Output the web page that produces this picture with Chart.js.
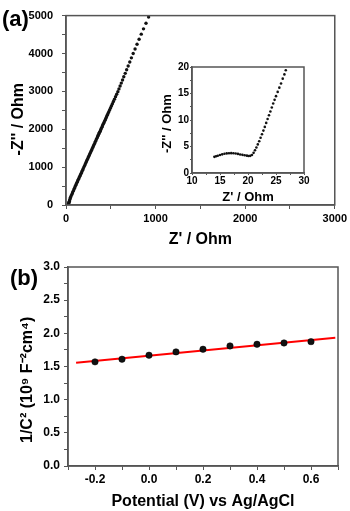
<!DOCTYPE html>
<html>
<head>
<meta charset="utf-8">
<script src="https://cdn.jsdelivr.net/npm/chart.js@4.4.1/dist/chart.umd.min.js"></script>
<style>
  html, body { margin: 0; padding: 0; background: #fff; }
  #wrap { position: relative; width: 350px; height: 511px; overflow: hidden; }
  canvas { position: absolute; }
  #cA { left: 0; top: 0; }
  #cIn { left: 150px; top: 55px; }
  #cB { left: 0; top: 250px; }
  .tag { position: absolute; font: bold 22px "Liberation Sans", Arial, sans-serif; line-height: 22px; color: #000; }
</style>
</head>
<body>
<div id="wrap">
  <canvas id="cA" width="350" height="250"></canvas>
  <canvas id="cIn" width="160" height="150"></canvas>
  <canvas id="cB" width="350" height="261"></canvas>
  <div class="tag" style="left:2px;top:8px">(a)</div>
  <div class="tag" style="left:10px;top:267px">(b)</div>
</div>
<script>
  // ---- Nyquist plot (a), Z' / -Z'' in Ohm
  const nyqZre = [27, 30, 33, 37, 41, 46, 50, 57, 65, 72, 79, 87, 94, 101, 109, 116, 124, 131, 139, 147,
    154, 162, 170, 177, 185, 192, 200, 208, 215, 223, 230, 238, 246, 253, 261, 268, 276, 284, 291, 299,
    306, 314, 322, 329, 337, 344, 352, 358, 363, 369, 374, 381, 387, 393, 400, 406, 413, 420, 428, 436,
    444, 452, 460, 469, 478, 488, 498, 508, 518, 529, 541, 553, 566, 579, 591, 604, 617, 631, 645, 661,
    677, 694, 712, 730, 750, 771, 793, 816, 840, 865, 893, 922];
  const nyqZim = [20, 45, 70, 100, 130, 165, 200, 240, 280, 320, 360, 400, 440, 480, 520, 560, 600, 640, 680, 720,
    760, 800, 840, 880, 920, 960, 1000, 1040, 1080, 1120, 1160, 1200, 1240, 1280, 1320, 1360, 1400, 1440, 1480, 1520,
    1560, 1600, 1640, 1680, 1720, 1760, 1800, 1830, 1858, 1888, 1918, 1950, 1982, 2015, 2050, 2085, 2122, 2160, 2200, 2240,
    2282, 2325, 2370, 2416, 2464, 2514, 2566, 2620, 2676, 2734, 2795, 2858, 2924, 2993, 3065, 3140, 3218, 3300, 3385, 3475,
    3570, 3670, 3775, 3885, 4000, 4120, 4245, 4375, 4510, 4650, 4800, 4960];

  // ---- inset, high frequency part
  const insetZre = [14.0, 14.3, 14.6, 15.0, 15.4, 15.8, 16.2, 16.6, 17.0, 17.4, 17.8, 18.2, 18.6, 19.0, 19.4,
    19.8, 20.1, 20.4, 20.7, 21.0, 21.25, 21.5, 21.75, 22.0, 22.25, 22.5, 22.75, 23.0, 23.25, 23.5, 23.75,
    24.0, 24.25, 24.5, 24.75, 25.0, 25.3, 25.6, 25.9, 26.2, 26.5, 26.75];
  const insetZim = [3.05, 3.15, 3.25, 3.4, 3.52, 3.62, 3.7, 3.74, 3.75, 3.73, 3.68, 3.6, 3.5, 3.42, 3.34,
    3.27, 3.22, 3.24, 3.4, 3.8, 4.3, 4.8, 5.4, 6.0, 6.65, 7.3, 8.0, 8.7, 9.45, 10.2, 10.9,
    11.6, 12.35, 13.1, 13.8, 14.5, 15.3, 16.1, 16.9, 17.8, 18.6, 19.4];

  // ---- Mott-Schottky plot (b)
  const potential = [-0.2, -0.1, 0.0, 0.1, 0.2, 0.3, 0.4, 0.5, 0.6];
  const invC2 = [1.57, 1.61, 1.67, 1.72, 1.76, 1.81, 1.835, 1.855, 1.875];
  const fitX = [-0.27, 0.69];
  const fitY = [1.555, 1.935];

  const EDGE = '#555';
  const FONT = '"Liberation Sans", Arial, sans-serif';
  Chart.defaults.font.family = FONT;
  Chart.defaults.font.weight = 'bold';
  Chart.defaults.color = '#000';

  const pts = (xs, ys) => xs.map((x, i) => ({ x, y: ys[i] }));

  const frame = {
    id: 'frame',
    afterDraw(c) {
      const { ctx, chartArea: a } = c;
      ctx.save();
      ctx.strokeStyle = EDGE;
      ctx.lineWidth = 1.5;
      ctx.strokeRect(a.left, a.top, a.right - a.left, a.bottom - a.top);
      ctx.restore();
    }
  };

  function axis(o) {
    return {
      type: 'linear',
      position: o.pos,
      min: o.min, max: o.max,
      afterFit: s => { if (o.pos === 'left') s.width = o.size; else s.height = o.size; },
      border: { display: true, color: EDGE, width: 1.5 },
      grid: { drawOnChartArea: false, drawTicks: true, tickLength: o.tick, color: EDGE, lineWidth: 1 },
      ticks: {
        stepSize: o.step, padding: o.pad, autoSkip: false, maxRotation: 0,
        color: '#000', font: { size: o.font, weight: 'bold' }, callback: o.label
      },
      title: {
        display: true, text: o.title, color: '#000',
        font: { size: o.tsize, weight: 'bold' }, padding: o.tpad
      }
    };
  }

  function base(padding, scales) {
    return {
      responsive: false, animation: false, devicePixelRatio: 1,
      layout: { padding },
      plugins: { legend: { display: false }, tooltip: { enabled: false } },
      scales
    };
  }

  const NB = '\u00A0';

  // (a) main
  new Chart(document.getElementById('cA'), {
    type: 'scatter',
    data: { datasets: [{
      data: pts(nyqZre, nyqZim),
      pointRadius: 1.7, pointBackgroundColor: '#111', pointBorderWidth: 0
    }]},
    options: base({ left: 0, top: 6, right: 14, bottom: 0 }, {
      x: axis({ pos: 'bottom', min: 0, max: 3000, step: 500, size: 45, tick: 4, pad: 3, font: 11,
        label: v => (v % 1000 === 0 ? String(v) : ''),
        title: "Z' / Ohm", tsize: 16, tpad: { top: 0, bottom: 1 } }),
      y: axis({ pos: 'left', min: 0, max: 5000, step: 500, size: 66, tick: 4, pad: 9, font: 11,
        label: v => (v % 1000 === 0 ? String(v) : ''),
        title: "-Z'' / Ohm" + NB.repeat(4), tsize: 16, tpad: { top: 9, bottom: 0 } })
    }),
    plugins: [frame]
  });

  // (a) inset
  new Chart(document.getElementById('cIn'), {
    type: 'scatter',
    data: { datasets: [{
      data: pts(insetZre, insetZim),
      pointRadius: 1.3, pointBackgroundColor: '#111', pointBorderWidth: 0
    }]},
    options: base({ left: 0, top: 12, right: 6, bottom: 0 }, {
      x: axis({ pos: 'bottom', min: 10, max: 30, step: 2.5, size: 32, tick: 2, pad: 0, font: 10,
        label: v => (v % 5 === 0 ? String(v) : ''),
        title: "Z' / Ohm", tsize: 13, tpad: { top: 0, bottom: 0 } }),
      y: axis({ pos: 'left', min: 0, max: 20, step: 2.5, size: 42, tick: 2, pad: 1, font: 10,
        label: v => (v % 5 === 0 ? String(v) : ''),
        title: "-Z'' / Ohm" + NB.repeat(2), tsize: 13, tpad: { top: 10, bottom: 0 } })
    }),
    plugins: [frame]
  });

  // (b)
  new Chart(document.getElementById('cB'), {
    type: 'scatter',
    data: { datasets: [
      {
        data: pts(potential, invC2), order: 0,
        pointRadius: 3.2, pointBackgroundColor: '#111', pointBorderColor: '#000', pointBorderWidth: 0.5
      },
      {
        data: pts(fitX, fitY), order: 1, showLine: true,
        borderColor: '#ff0000', borderWidth: 2, pointRadius: 0
      }
    ]},
    options: base({ left: 0, top: 17, right: 12, bottom: 0 }, {
      x: axis({ pos: 'bottom', min: -0.3, max: 0.7, step: 0.1, size: 45, tick: 4, pad: 2, font: 12,
        label: v => { const k = Math.round(v * 10); return k % 2 === 0 ? (k / 10).toFixed(1) : ''; },
        title: 'Potential (V) vs Ag/AgCl', tsize: 16, tpad: { top: 0, bottom: 0 } }),
      y: axis({ pos: 'left', min: 0, max: 3, step: 0.25, size: 68, tick: 4, pad: 4, font: 12,
        label: v => { const k = Math.round(v * 4); return k % 2 === 0 ? (k / 4).toFixed(1) : ''; },
        title: '1/C\u00B2 (10\u2079 F\u207B\u00B2cm\u2074)' + NB.repeat(6), tsize: 16, tpad: { top: 18, bottom: 0 } })
    }),
    plugins: [frame]
  });
</script>
</body>
</html>
